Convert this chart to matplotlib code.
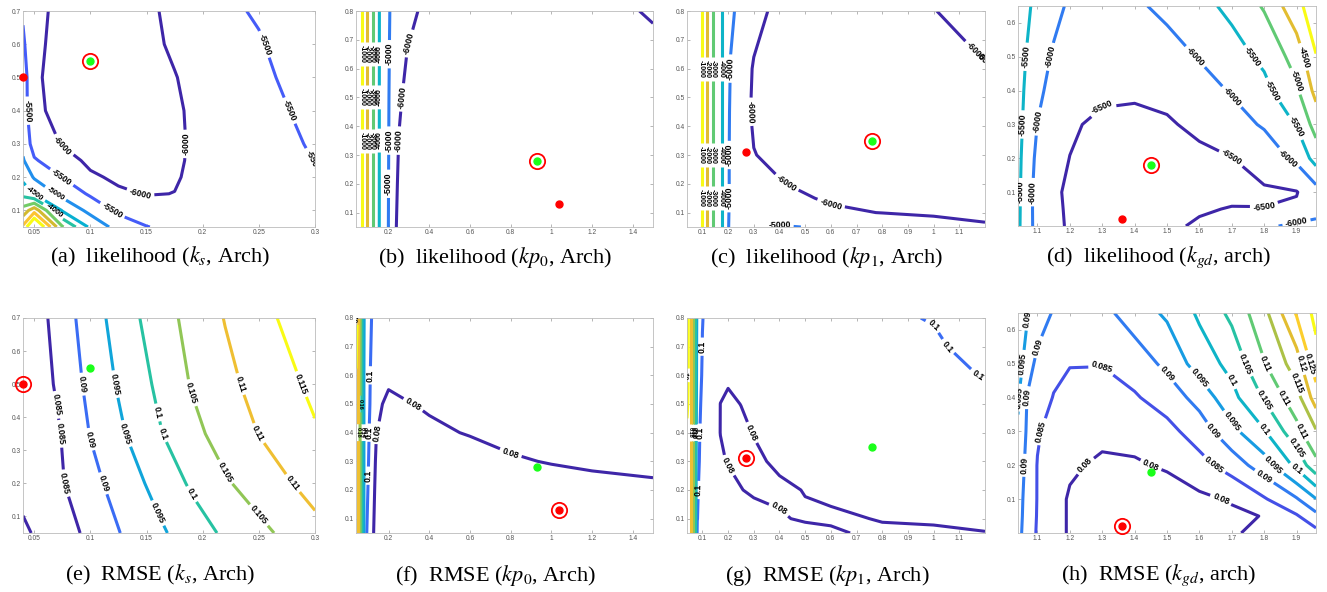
import numpy as np
import matplotlib.pyplot as plt
from matplotlib.colors import LinearSegmentedColormap, Normalize

plt.rcParams['font.family'] = ['Liberation Sans', 'DejaVu Sans']
plt.rcParams['mathtext.fontset'] = 'stix'

# rough parula
parula = LinearSegmentedColormap.from_list('parula', [
    (0.242, 0.150, 0.660), (0.271, 0.361, 0.972), (0.130, 0.560, 0.930),
    (0.030, 0.690, 0.820), (0.150, 0.760, 0.640), (0.440, 0.800, 0.410),
    (0.820, 0.730, 0.190), (0.990, 0.760, 0.200), (0.977, 0.984, 0.081)])

# ---------------- data: likelihood / RMSE grids (rows = y, cols = x) -------------
# (a) likelihood (k_s, Arch)
a_x = [0.04, 0.05, 0.075, 0.1, 0.125, 0.15, 0.175, 0.2, 0.25, 0.3]
a_y = [0.05, 0.1, 0.15, 0.2, 0.25, 0.3, 0.4, 0.5, 0.6, 0.7]
a_z = [[-2400, -1200, -3450, -4600, -5200, -5480, -5650, -5700, -5650, -5600],
       [-3300, -2700, -4550, -5150, -5600, -5800, -5850, -5800, -5720, -5580],
       [-4150, -4550, -5150, -5570, -5930, -6020, -5995, -5870, -5760, -5560],
       [-4650, -5050, -5510, -5930, -6080, -6100, -6030, -5900, -5770, -5520],
       [-4950, -5450, -5800, -6100, -6150, -6130, -6050, -5910, -5760, -5490],
       [-5150, -5700, -6030, -6170, -6200, -6150, -6060, -5910, -5740, -5440],
       [-5250, -5900, -6150, -6230, -6240, -6160, -6060, -5880, -5680, -5350],
       [-5250, -5940, -6150, -6240, -6250, -6150, -6020, -5820, -5610, -5250],
       [-5420, -5920, -6120, -6230, -6240, -6120, -5930, -5750, -5540, -5150],
       [-5560, -5920, -6080, -6200, -6210, -6080, -5900, -5680, -5450, -5050]]
a_levels = [-6000, -5500, -5000, -4500, -4000, -3500, -3000, -2500, -2000]

# (b) likelihood (kp_0, Arch)
b_x = [0.03, 0.06, 0.09, 0.12, 0.15, 0.2, 0.25, 0.3, 0.4, 0.6, 0.8, 1.0, 1.2, 1.4, 1.5]
b_y = [0.05, 0.2, 0.35, 0.5, 0.65, 0.8]
b_z = [[500, -600, -1800, -2950, -3900, -5020, -6300, -6450, -6500, -6500, -6480, -6450, -6420, -6380, -6350],
       [500, -600, -1800, -2950, -3900, -5000, -6150, -6400, -6480, -6500, -6480, -6460, -6420, -6380, -6350],
       [500, -600, -1800, -2950, -3900, -4980, -6010, -6300, -6450, -6480, -6470, -6450, -6420, -6370, -6330],
       [500, -600, -1800, -2950, -3900, -4960, -5930, -6150, -6380, -6450, -6440, -6420, -6380, -6320, -6280],
       [500, -600, -1800, -2950, -3900, -4930, -5850, -6040, -6250, -6380, -6380, -6350, -6300, -6250, -6250],
       [500, -600, -1800, -2950, -3900, -4900, -5700, -5880, -6150, -6300, -6300, -6250, -6150, -6050, -5900]]
b_levels = [-6000, -5000, -4000, -3000, -2000, -1000]

# (c) likelihood (kp_1, Arch)
c_x = [0.04, 0.08, 0.1, 0.12, 0.15, 0.18, 0.21, 0.25, 0.3, 0.4, 0.5, 0.6, 0.8, 1.0, 1.2]
c_y = [0.05, 0.1, 0.15, 0.2, 0.3, 0.45, 0.6, 0.8]
c_z = [[1000, -300, -1150, -2150, -3350, -4150, -5300, -5400, -5100, -4900, -5020, -5300, -5600, -5850, -5960],
       [1000, -300, -1150, -2150, -3350, -4150, -5250, -5650, -5750, -5750, -5850, -5930, -6010, -6050, -6080],
       [1000, -300, -1150, -2150, -3350, -4150, -5250, -5700, -5850, -5900, -5970, -6050, -6100, -6120, -6130],
       [1000, -300, -1150, -2150, -3350, -4150, -5200, -5750, -5920, -5980, -6060, -6110, -6150, -6160, -6150],
       [1000, -300, -1150, -2150, -3350, -4150, -5200, -5800, -5990, -6080, -6130, -6170, -6200, -6200, -6180],
       [1000, -300, -1150, -2150, -3350, -4150, -5150, -5850, -6050, -6150, -6200, -6220, -6230, -6200, -6150],
       [1000, -300, -1150, -2150, -3350, -4150, -5050, -5800, -6030, -6150, -6200, -6200, -6170, -6100, -6020],
       [1000, -300, -1150, -2150, -3350, -4150, -4850, -5250, -5880, -6100, -6150, -6130, -6080, -6010, -5850]]
c_levels = [-6000, -5000, -4000, -3000, -2000, -1000]

# (d) likelihood (k_gd, arch)
d_x = [1.04, 1.1, 1.15, 1.2, 1.3, 1.4, 1.5, 1.6, 1.7, 1.8, 1.9, 1.96]
d_y = [0.0, 0.05, 0.1, 0.2, 0.3, 0.4, 0.5, 0.65]
d_z = [[-5420, -6190, -6380, -6560, -6650, -6640, -6570, -6450, -6300, -6080, -5900, -5850],
       [-5410, -6200, -6400, -6570, -6680, -6690, -6630, -6540, -6480, -6490, -6440, -6200],
       [-5400, -6200, -6420, -6580, -6700, -6720, -6680, -6640, -6600, -6560, -6520, -6200],
       [-5380, -6120, -6380, -6505, -6640, -6680, -6650, -6600, -6510, -6280, -5900, -5300],
       [-5350, -6010, -6300, -6450, -6580, -6600, -6550, -6400, -6180, -5950, -5470, -4800],
       [-5330, -5900, -6150, -6300, -6420, -6440, -6380, -6200, -5960, -5640, -5080, -4350],
       [-5300, -5800, -6050, -6180, -6280, -6280, -6200, -5970, -5700, -5390, -4800, -4020],
       [-5250, -5630, -5880, -6060, -6150, -6080, -5880, -5650, -5380, -4950, -4150, -3700]]
d_levels = [-6500, -6000, -5500, -5000, -4500, -4000]

# (e) RMSE (k_s, Arch)
e_x = [0.04, 0.07, 0.1, 0.13, 0.16, 0.19, 0.22, 0.25, 0.3]
e_y = [0.05, 0.2, 0.35, 0.5, 0.7]
e_z = [[0.0792, 0.0825, 0.0861, 0.0905, 0.0940, 0.0975, 0.1008, 0.1037, 0.1085],
       [0.0815, 0.0840, 0.0884, 0.0926, 0.0965, 0.1007, 0.1044, 0.1073, 0.1118],
       [0.0805, 0.0843, 0.0902, 0.0948, 0.0994, 0.1036, 0.1070, 0.1101, 0.1145],
       [0.0805, 0.0855, 0.0914, 0.0963, 0.1008, 0.1053, 0.1087, 0.1116, 0.1161],
       [0.0805, 0.0866, 0.0926, 0.0978, 0.1025, 0.1066, 0.1102, 0.1133, 0.1185]]
e_levels = [0.08, 0.085, 0.09, 0.095, 0.1, 0.105, 0.11, 0.115]

# (f) RMSE (kp_0, Arch)
f_x = [0.04, 0.05, 0.06, 0.07, 0.08, 0.1, 0.12, 0.14, 0.2, 0.3, 0.4, 0.6, 0.8, 1.0, 1.2, 1.5]
f_y = [0.05, 0.2, 0.3, 0.4, 0.5, 0.6, 0.8]
f_z = [[0.195, 0.185, 0.16, 0.137, 0.118, 0.0903, 0.082, 0.076, 0.073, 0.072, 0.071, 0.070, 0.0695, 0.069, 0.0695, 0.070],
       [0.195, 0.185, 0.16, 0.137, 0.118, 0.0985, 0.0835, 0.0775, 0.0745, 0.0735, 0.0725, 0.0725, 0.0745, 0.0755, 0.077, 0.0785],
       [0.195, 0.185, 0.16, 0.137, 0.118, 0.1015, 0.085, 0.0785, 0.0755, 0.075, 0.075, 0.0765, 0.079, 0.0805, 0.0815, 0.082],
       [0.195, 0.185, 0.16, 0.137, 0.118, 0.104, 0.0865, 0.0802, 0.077, 0.0772, 0.0785, 0.0805, 0.0825, 0.083, 0.0835, 0.084],
       [0.195, 0.185, 0.16, 0.137, 0.118, 0.108, 0.089, 0.0815, 0.0785, 0.0797, 0.081, 0.083, 0.0845, 0.085, 0.0855, 0.086],
       [0.198, 0.185, 0.16, 0.137, 0.118, 0.11, 0.09, 0.083, 0.0815, 0.0835, 0.084, 0.085, 0.086, 0.0865, 0.087, 0.0875],
       [0.215, 0.19, 0.162, 0.138, 0.12, 0.114, 0.097, 0.086, 0.086, 0.087, 0.0875, 0.088, 0.0885, 0.089, 0.0895, 0.09]]
f_levels = [0.08, 0.1, 0.12, 0.14, 0.16, 0.18, 0.2]

# (g) RMSE (kp_1, Arch)
g_x = [0.04, 0.05, 0.06, 0.07, 0.08, 0.1, 0.13, 0.17, 0.2, 0.25, 0.3, 0.4, 0.5, 0.6, 0.7, 0.8, 1.0, 1.2]
g_y = [0.05, 0.1, 0.2, 0.3, 0.4, 0.5, 0.6, 0.7, 0.8]
g_z = [[0.195, 0.19, 0.165, 0.14, 0.097, 0.093, 0.092, 0.09, 0.089, 0.088, 0.087, 0.085, 0.083, 0.0815, 0.0795, 0.0785, 0.0785, 0.0798],
       [0.195, 0.19, 0.165, 0.14, 0.1005, 0.09, 0.09, 0.088, 0.087, 0.0855, 0.084, 0.0808, 0.079, 0.0785, 0.0795, 0.0805, 0.0812, 0.0815],
       [0.195, 0.19, 0.165, 0.14, 0.103, 0.088, 0.089, 0.0865, 0.0845, 0.0803, 0.0785, 0.0785, 0.0803, 0.082, 0.083, 0.0835, 0.0845, 0.085],
       [0.195, 0.19, 0.165, 0.14, 0.106, 0.091, 0.0885, 0.0818, 0.0792, 0.0778, 0.0785, 0.0815, 0.0835, 0.0845, 0.0852, 0.0858, 0.087, 0.0875],
       [0.195, 0.19, 0.165, 0.14, 0.108, 0.092, 0.0885, 0.0798, 0.0785, 0.0785, 0.0803, 0.0835, 0.0855, 0.0865, 0.0875, 0.0885, 0.0905, 0.0925],
       [0.205, 0.19, 0.165, 0.14, 0.11, 0.095, 0.0885, 0.0799, 0.0788, 0.0801, 0.0815, 0.0845, 0.087, 0.0885, 0.0895, 0.091, 0.094, 0.0965],
       [0.21, 0.19, 0.165, 0.14, 0.112, 0.098, 0.089, 0.083, 0.081, 0.0825, 0.0835, 0.086, 0.0885, 0.0905, 0.092, 0.094, 0.097, 0.1005],
       [0.21, 0.19, 0.165, 0.14, 0.113, 0.0995, 0.0895, 0.0855, 0.0845, 0.085, 0.086, 0.0885, 0.091, 0.093, 0.095, 0.097, 0.0985, 0.104],
       [0.21, 0.19, 0.165, 0.14, 0.115, 0.1005, 0.094, 0.088, 0.087, 0.0875, 0.0885, 0.091, 0.0935, 0.0955, 0.097, 0.0985, 0.1005, 0.106]]
g_levels = [0.08, 0.1, 0.12, 0.14, 0.16, 0.18, 0.2]

# (h) RMSE (k_gd, arch)
h_x = [1.04, 1.07, 1.1, 1.15, 1.2, 1.3, 1.4, 1.5, 1.6, 1.7, 1.8, 1.9, 1.96]
h_y = [0.0, 0.05, 0.1, 0.2, 0.3, 0.4, 0.5, 0.65]
h_z = [[0.0915, 0.0875, 0.0845, 0.0818, 0.0795, 0.0775, 0.0768, 0.077, 0.0778, 0.0795, 0.0812, 0.083, 0.0835],
       [0.0918, 0.0878, 0.0847, 0.0818, 0.0795, 0.0775, 0.0768, 0.0772, 0.0783, 0.079, 0.0802, 0.0845, 0.0885],
       [0.092, 0.088, 0.0848, 0.0818, 0.0795, 0.0775, 0.0768, 0.0775, 0.079, 0.0805, 0.0845, 0.0895, 0.0948],
       [0.0928, 0.0885, 0.0848, 0.0822, 0.0807, 0.0792, 0.0794, 0.0806, 0.0833, 0.0872, 0.0927, 0.1013, 0.1085],
       [0.0945, 0.089, 0.0855, 0.0832, 0.082, 0.0812, 0.0818, 0.0835, 0.0873, 0.0936, 0.0996, 0.1085, 0.1145],
       [0.0955, 0.0895, 0.0873, 0.0848, 0.0835, 0.0828, 0.0845, 0.0872, 0.0918, 0.0985, 0.1055, 0.113, 0.1225],
       [0.0972, 0.0925, 0.0885, 0.0862, 0.0852, 0.0852, 0.0872, 0.0912, 0.0973, 0.1015, 0.1097, 0.1175, 0.128],
       [0.0985, 0.0952, 0.093, 0.0895, 0.088, 0.0885, 0.0925, 0.0958, 0.1008, 0.1062, 0.1135, 0.1255, 0.1315]]
h_levels = [0.08, 0.085, 0.09, 0.095, 0.1, 0.105, 0.11, 0.115, 0.12, 0.125, 0.13]

# estimated (green) and true (red) parameter points
ks_green, ks_red = (0.10, 0.55), (0.04, 0.50)
kp0_green, kp0_red = (0.93, 0.28), (1.04, 0.13)
kp1_green, kp1_red = (0.76, 0.35), (0.27, 0.31)
kgd_green, kgd_red = (1.45, 0.18), (1.36, 0.02)

fig = plt.figure(figsize=(13.27, 5.92), dpi=100, facecolor='white')

cols = [(23, 315), (356, 653), (687, 985), (1018, 1316)]
W, H = 1327.0, 592.0


def panel(col, row, x, y, z, levels, labels, vmin, vmax, fmt, xlim, ylim, xticks, yticks,
          green, red, ring_on_green, caption):
    l, r = cols[col]
    if row == 0:
        top, bot = (6, 226) if col == 3 else (11, 227)
        cap_y = 1 - 257 / H
    else:
        top, bot = (313, 533) if col == 3 else (318, 533)
        cap_y = 1 - 575 / H
    ax = fig.add_axes([l / W, 1 - bot / H, (r - l) / W, (bot - top) / H])
    ax.set_xlim(xlim)
    ax.set_ylim(ylim)
    cs = ax.contour(x, y, np.array(z), levels=levels, cmap=parula,
                    norm=Normalize(vmin, vmax), linewidths=2.2)
    # each group: (levels, font size, passes); a second pass labels the pieces
    # left by the first one, the way MATLAB repeats labels along long lines
    for lv, fs, passes in labels:
        for _ in range(passes):
            ax.clabel(cs, lv, fmt=fmt, fontsize=fs, inline=True, inline_spacing=3,
                      colors='black')
    for t in cs.labelTexts:
        t.set_fontweight('bold')
    gx, gy = green
    rx, ry = red
    ax.plot(gx, gy, 'o', color=(0.1, 1.0, 0.1), ms=5, clip_on=False, zorder=5)
    ax.plot(rx, ry, 'o', color='red', ms=5, clip_on=False, zorder=5)
    ringx, ringy = green if ring_on_green else red
    ax.plot(ringx, ringy, 'o', mfc='none', mec='red', ms=11, mew=1.3, clip_on=False, zorder=5)
    ax.set_xticks(xticks)
    ax.set_yticks(yticks)
    ax.set_xticklabels(['%g' % t for t in xticks])
    ax.set_yticklabels(['%g' % t for t in yticks])
    ax.tick_params(direction='in', length=2.5, width=0.5, color='#999999',
                   labelcolor='#555555', labelsize=4.8, top=True, right=True, pad=1.5)
    for s in ax.spines.values():
        s.set_color('#bbbbbb')
        s.set_linewidth(0.6)
    fig.text(((l + r) / 2 - 9) / W, cap_y, caption, ha='center', va='center',
             fontsize=16, family='Liberation Serif')
    return ax


lik = lambda v: '%d' % v
rm = lambda v: '%g' % v
yt8 = [0.1, 0.2, 0.3, 0.4, 0.5, 0.6, 0.7, 0.8]
FS = 6.3

panel(0, 0, a_x, a_y, a_z, a_levels,
      [(a_levels[:2], FS, 2), (a_levels[2:5], 5.5, 1)],
      -6000, -2000, lik, (0.04, 0.3), (0.05, 0.7),
      [0.05, 0.1, 0.15, 0.2, 0.25, 0.3], yt8[:7], ks_green, ks_red, True,
      r'(a)  likelihood ($k_s$, Arch)')
panel(1, 0, b_x, b_y, b_z, b_levels,
      [(b_levels[:2], FS, 2), (b_levels[2:], 5.0, 2)],
      -6000, -1000, lik, (0.04, 1.5), (0.05, 0.8),
      [0.2, 0.4, 0.6, 0.8, 1.0, 1.2, 1.4], yt8, kp0_green, kp0_red, True,
      r'(b)  likelihood ($kp_0$, Arch)')
panel(2, 0, c_x, c_y, c_z, c_levels,
      [(c_levels[:2], FS, 2), (c_levels[2:], 5.0, 2)],
      -6000, -1000, lik, (0.04, 1.2), (0.05, 0.8),
      [0.1, 0.2, 0.3, 0.4, 0.5, 0.6, 0.7, 0.8, 0.9, 1.0, 1.1], yt8, kp1_green, kp1_red, True,
      r'(c)  likelihood ($kp_1$, Arch)')
panel(3, 0, d_x, d_y, d_z, d_levels,
      [(d_levels[:3], FS, 2), (d_levels[3:5], FS, 1)],
      -6500, -4000, lik, (1.04, 1.96), (0.0, 0.65),
      [1.1, 1.2, 1.3, 1.4, 1.5, 1.6, 1.7, 1.8, 1.9], yt8[:6], kgd_green, kgd_red, True,
      r'(d)  likelihood ($k_{gd}$, arch)')
panel(0, 1, e_x, e_y, e_z, e_levels,
      [(e_levels[1:7], FS, 2), (e_levels[7:], FS, 1)],
      0.085, 0.115, rm, (0.04, 0.3), (0.05, 0.7),
      [0.05, 0.1, 0.15, 0.2, 0.25, 0.3], yt8[:7], ks_green, ks_red, False,
      r'(e)  RMSE ($k_s$, Arch)')
panel(1, 1, f_x, f_y, f_z, f_levels,
      [(f_levels[:2], FS, 2), (f_levels[2:], 4.0, 1)],
      0.08, 0.2, rm, (0.04, 1.5), (0.05, 0.8),
      [0.2, 0.4, 0.6, 0.8, 1.0, 1.2, 1.4], yt8, kp0_green, kp0_red, False,
      r'(f)  RMSE ($kp_0$, Arch)')
panel(2, 1, g_x, g_y, g_z, g_levels,
      [(g_levels[:2], FS, 2), (g_levels[2:], 4.0, 1)],
      0.08, 0.2, rm, (0.04, 1.2), (0.05, 0.8),
      [0.1, 0.2, 0.3, 0.4, 0.5, 0.6, 0.7, 0.8, 0.9, 1.0, 1.1], yt8, kp1_green, kp1_red, False,
      r'(g)  RMSE ($kp_1$, Arch)')
panel(3, 1, h_x, h_y, h_z, h_levels,
      [(h_levels[:7], FS, 2), (h_levels[7:10], FS, 1)],
      0.08, 0.13, rm, (1.04, 1.96), (0.0, 0.65),
      [1.1, 1.2, 1.3, 1.4, 1.5, 1.6, 1.7, 1.8, 1.9], yt8[:6], kgd_green, kgd_red, False,
      r'(h)  RMSE ($k_{gd}$, arch)')

fig.savefig('out.png', dpi=100, facecolor='white')
